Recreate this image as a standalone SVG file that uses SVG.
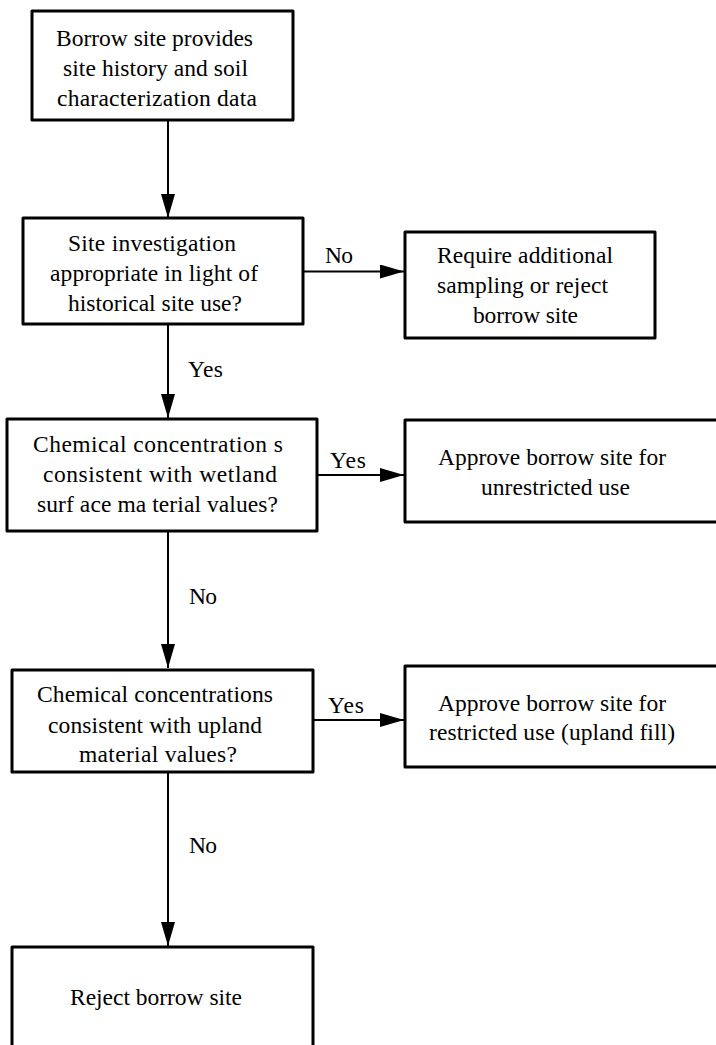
<svg xmlns="http://www.w3.org/2000/svg" width="716" height="1045" viewBox="0 0 716 1045" font-family="'Liberation Serif', 'DejaVu Serif', serif">
<defs>
<style>
.box{fill:#fff;stroke:#000;stroke-width:3;stroke-linejoin:round}
.ln{stroke:#000;stroke-width:2;fill:none;marker-end:url(#ah)}
.t{font-family:'Liberation Serif','DejaVu Serif',serif;font-size:23.5px;fill:#000}
</style>
<marker id="ah" markerUnits="userSpaceOnUse" markerWidth="24" markerHeight="14" refX="24" refY="7" orient="auto">
<path d="M0,0 L24,7 L0,14 z" fill="#000"/>
</marker>
</defs>
<g id="connectors">
<line class="ln" x1="168" y1="120" x2="168" y2="218"/>
<line class="ln" x1="303" y1="271.5" x2="404" y2="271.5"/>
<line class="ln" x1="168" y1="324" x2="168" y2="418"/>
<line class="ln" x1="317" y1="475" x2="404" y2="475"/>
<line class="ln" x1="168" y1="531" x2="168" y2="668"/>
<line class="ln" x1="313" y1="720" x2="404" y2="720"/>
<line class="ln" x1="168" y1="772" x2="168" y2="946"/>
<text class="t" x="325" y="263" textLength="28">No</text>
<text class="t" x="188" y="377" textLength="35">Yes</text>
<text class="t" x="330" y="468" textLength="36">Yes</text>
<text class="t" x="189" y="604" textLength="28">No</text>
<text class="t" x="328" y="713" textLength="36">Yes</text>
<text class="t" x="189" y="853" textLength="28">No</text>
</g>
<g id="n1">
<rect class="box" x="32" y="11" width="261" height="109"/>
<text class="t" x="56" y="46" textLength="197">Borrow site provides</text>
<text class="t" x="63" y="76" textLength="185">site history and soil</text>
<text class="t" x="57" y="106" textLength="200">characterization data</text>
</g>
<g id="n2">
<rect class="box" x="23" y="218" width="280" height="106"/>
<text class="t" x="68" y="251" textLength="168">Site investigation</text>
<text class="t" x="50" y="281" textLength="208">appropriate in light of</text>
<text class="t" x="68" y="311" textLength="174">historical site use?</text>
</g>
<g id="n2no">
<rect class="box" x="405" y="232" width="250" height="106"/>
<text class="t" x="437" y="263" textLength="176">Require additional</text>
<text class="t" x="437" y="293" textLength="171">sampling or reject</text>
<text class="t" x="473" y="323" textLength="105">borrow site</text>
</g>
<g id="n3">
<rect class="box" x="7" y="419" width="310" height="112"/>
<text class="t" x="33" y="452" textLength="250">Chemical  concentration s</text>
<text class="t" x="43" y="482" textLength="234">consistent with  wetland</text>
<text class="t" x="37" y="512" textLength="241">surf ace ma terial values?</text>
</g>
<g id="n3yes">
<rect class="box" x="405" y="420" width="330" height="102"/>
<text class="t" x="438" y="465" textLength="228">Approve borrow site for</text>
<text class="t" x="481" y="495" textLength="149">unrestricted use</text>
</g>
<g id="n4">
<rect class="box" x="12" y="670" width="301" height="102"/>
<text class="t" x="37" y="702" textLength="236">Chemical concentrations</text>
<text class="t" x="48" y="733" textLength="214">consistent with upland</text>
<text class="t" x="79" y="762" textLength="158">material values?</text>
</g>
<g id="n4yes">
<rect class="box" x="405" y="666" width="330" height="101"/>
<text class="t" x="438" y="711" textLength="228">Approve borrow site for</text>
<text class="t" x="429" y="740" textLength="246">restricted use (upland fill)</text>
</g>
<g id="n5">
<rect class="box" x="12" y="947" width="301" height="130"/>
<text class="t" x="70" y="1005" textLength="172">Reject borrow site</text>
</g>
</svg>
